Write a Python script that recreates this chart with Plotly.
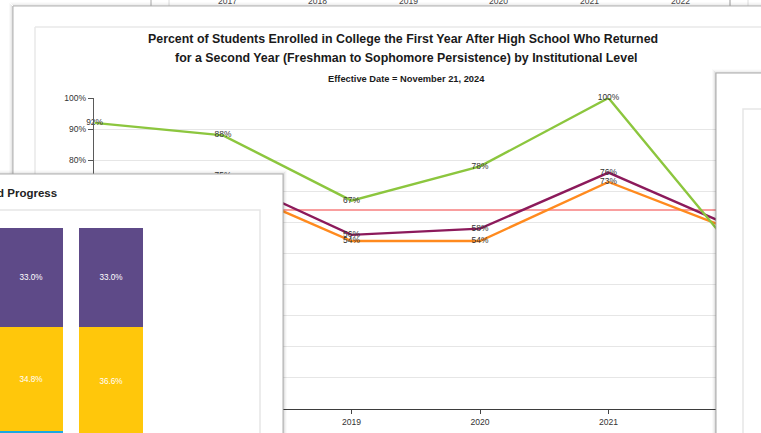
import plotly.graph_objects as go

FONT = "Liberation Sans, Arial, Helvetica, sans-serif"

# ---------------- data ----------------
years = [2017, 2018, 2019, 2020, 2021, 2022]
year_labels = ["2017", "2018", "2019", "2020", "2021", "2022"]

four_year = [92, 88, 67, 78, 100, 50]      # green series
all_levels = [72, 75, 56, 58, 76, 58]      # maroon series
two_year = [69, 72, 54, 54, 73, 57]        # orange series
benchmark = [64, 64, 64, 64, 64, 64]       # red reference line

pct_ticks = [0, 10, 20, 30, 40, 50, 60, 70, 80, 90, 100]
pct_tick_labels = ["0%", "10%", "20%", "30%", "40%", "50%", "60%", "70%", "80%", "90%", "100%"]

bar_groups = ["Fall", "Spring"]
seg_top = [33.0, 33.0]
seg_mid = [34.8, 36.6]
seg_low = [32.2, 30.4]

# ---------------- canvas geometry ----------------
W, H = 761, 433


def fx(px):
    """pixel -> paper x"""
    return px / W


def fy(py):
    """pixel -> paper y"""
    return 1 - py / H


def px_of_fx(p):
    return p * W


def py_of_fy(p):
    return (1 - p) * H


def clamp(v):
    return min(1.0, max(0.0, v))


def x_axis_geom(px0, px1, val_at_px):
    d0, d1 = clamp(fx(px0)), clamp(fx(px1))
    return [d0, d1], [val_at_px(px_of_fx(d0)), val_at_px(px_of_fx(d1))]


def y_axis_geom(py_top, py_bottom, val_at_py):
    d0, d1 = clamp(fy(py_bottom)), clamp(fy(py_top))
    return [d0, d1], [val_at_py(py_of_fy(d0)), val_at_py(py_of_fy(d1))]


# axis scales (value <-> pixel)
main_x = lambda px: 2017 + (px - 94.5) / 128.5
main_y = lambda py: (409 - py) / 3.11
back_x = lambda px: 2017 + (px - 227) / 90.6
bar_x = lambda px: (px - 31) / 80
bar_y = lambda py: 100 - (py - 228) / 3
ident = lambda p: p

fig = go.Figure()

# subplot 2: axis of the window behind (only its tick labels peek out at the top)
fig.add_trace(go.Scatter(x=[], y=[], xaxis="x2", yaxis="y2", hoverinfo="skip", showlegend=False))

# subplot 3: main persistence line chart
fig.add_trace(go.Scatter(
    x=years, y=benchmark, mode="lines", name="Benchmark",
    line=dict(color="rgba(245,105,105,0.85)", width=1.6),
    xaxis="x3", yaxis="y3", hoverinfo="skip", showlegend=False,
))
series = [
    ("All Levels", all_levels, "#8c1a5b"),
    ("Two-Year", two_year, "#ff8a1e"),
    ("Four-Year", four_year, "#8cc63e"),
]
for name, vals, col in series:
    fig.add_trace(go.Scatter(
        x=years, y=vals, name=name, mode="lines+text",
        line=dict(color=col, width=2.4),
        text=[f"{v}%" for v in vals], textposition="middle center",
        textfont=dict(family=FONT, size=8.4, color="#333333"),
        cliponaxis=False, xaxis="x3", yaxis="y3", showlegend=False,
    ))

# subplot 4: frame of the overlapping bar-chart window
fig.add_trace(go.Scatter(x=[], y=[], xaxis="x4", yaxis="y4", hoverinfo="skip", showlegend=False))

# subplot 5: stacked bars inside that window
for vals, col, show_text in [(seg_low, "#1aa8e2", False), (seg_mid, "#ffc70b", True), (seg_top, "#5e4a88", True)]:
    fig.add_trace(go.Bar(
        x=bar_groups, y=vals, marker=dict(color=col, line=dict(width=0)),
        text=[f"{v:.1f}%" for v in vals] if show_text else None,
        textposition="inside" if show_text else "none", insidetextanchor="middle",
        textangle=0, insidetextfont=dict(family=FONT, size=8.2, color="white"),
        xaxis="x5", yaxis="y5", showlegend=False,
    ))

# subplot 6: frame of the window on the right
fig.add_trace(go.Scatter(x=[], y=[], xaxis="x6", yaxis="y6", hoverinfo="skip", showlegend=False))

hidden = dict(visible=False, showgrid=False, zeroline=False, fixedrange=True, automargin=False)

shapes = []


def pline(x0, y0, x1, y1, color, width=1.0):
    shapes.append(dict(type="line", xref="paper", yref="paper", layer="below",
                       x0=fx(x0), x1=fx(x1), y0=fy(y0), y1=fy(y1),
                       line=dict(color=color, width=width)))


def sline(ax, x0, y0, x1, y1, color, width=1.0):
    shapes.append(dict(type="line", xref="x" + ax, yref="y" + ax, layer="below",
                       x0=x0, x1=x1, y0=y0, y1=y1,
                       line=dict(color=color, width=width)))


def srect(ax, x0, y0, x1, y1, line_color, width=1.0, fill=None):
    d = dict(type="rect", xref="x" + ax, yref="y" + ax, layer="below",
             x0=x0, x1=x1, y0=y0, y1=y1, line=dict(color=line_color, width=width))
    if fill:
        d["fillcolor"] = fill
    shapes.append(d)


# window behind: edges peeking above the main window
for xp, col in [(151, "#a8a8a8"), (169, "#dcdcdc"), (730, "#9a9a9a"), (748, "#dedede")]:
    pline(xp, -2, xp, 6, col)

# main window: soft shadow, border and inner panel
for i, a in enumerate([0.16, 0.09, 0.05, 0.025]):
    pline(12.5 - i, 6 - i, 12.5 - i, 440, f"rgba(0,0,0,{a})")
    pline(13 - i, 5.5 - i, 780, 5.5 - i, f"rgba(0,0,0,{a * 0.7:.3f})")
pline(13, 6, 13, 440, "#b3b3b3")
pline(13, 6, 780, 6, "#b3b3b3")
pline(35, 27, 35, 440, "#e9e9e9", 1.5)
pline(35, 27, 780, 27, "#e9e9e9", 1.5)

# bar window, drawn in subplot 4 above the line chart (pixel-scaled axes)
for i, a in enumerate([0.18, 0.1, 0.05, 0.02]):
    sline("4", 283.5 + i, 173 - i, 283.5 + i, 440, f"rgba(0,0,0,{a})")
    sline("4", -5, 173.5 - i, 283 + i, 173.5 - i, f"rgba(0,0,0,{a * 0.7:.3f})")
srect("4", -10, 174, 283, 450, "#b0b0b0", 1, "white")
srect("4", -10, 210, 260, 460, "#e6e6e6", 1.5)

# right window, drawn in subplot 6
for i, a in enumerate([0.18, 0.1, 0.05, 0.02]):
    sline("6", 715.5 - i, 72 - i, 715.5 - i, 440, f"rgba(0,0,0,{a})")
    sline("6", 716 - i, 72.5 - i, 780, 72.5 - i, f"rgba(0,0,0,{a * 0.6:.3f})")
srect("6", 716, 73, 790, 450, "#a9a9a9", 1, "white")
srect("6", 743, 109, 800, 460, "#e6e6e6", 1.5)

annotations = []
# tick labels of the window behind, placed through its own x axis
for yr, lab in zip(years, year_labels):
    annotations.append(dict(x=yr, xref="x2", y=fy(1.2), yref="paper", text=lab,
                            showarrow=False, xanchor="center", yanchor="middle",
                            font=dict(family=FONT, size=8.6, color="#444444")))


def title_ann(x, y, text, size, anchor="center", color="#1a1a1a"):
    annotations.append(dict(x=fx(x), y=fy(y), xref="paper", yref="paper", showarrow=False,
                            text=text, font=dict(family=FONT, size=size, color=color),
                            xanchor=anchor, yanchor="middle"))


title_ann(403, 38.5, "<b>Percent of Students Enrolled in College the First Year After High School Who Returned</b>", 12.4)
title_ann(406, 58, "<b>for a Second Year (Freshman to Sophomore Persistence) by Institutional Level</b>", 12.4)
title_ann(406.5, 78.5, "<b>Effective Date = November 21, 2024</b>", 9.3)
title_ann(59.3, 193, "<b>Degree Completion and Progress</b>", 11.5, anchor="right", color="#222222")

dom_x2, rng_x2 = x_axis_geom(169, 730, back_x)
dom_y2, rng_y2 = y_axis_geom(-6, 2, lambda p: p)
dom_x3, rng_x3 = x_axis_geom(94, 750, main_x)
dom_y3, rng_y3 = y_axis_geom(98, 409, main_y)
dom_x4, rng_x4 = x_axis_geom(0, 292, ident)
dom_y4, rng_y4 = y_axis_geom(166, 433, ident)
dom_x5, rng_x5 = x_axis_geom(0, 260, bar_x)
dom_y5, rng_y5 = y_axis_geom(210, 433, bar_y)
dom_x6, rng_x6 = x_axis_geom(700, 761, ident)
dom_y6, rng_y6 = y_axis_geom(60, 433, ident)

fig.update_layout(
    width=W, height=H, autosize=False,
    margin=dict(l=0, r=0, t=0, b=0, pad=0, autoexpand=False),
    paper_bgcolor="white", plot_bgcolor="rgba(0,0,0,0)",
    font=dict(family=FONT),
    showlegend=False,
    barmode="stack", bargap=0.2,
    shapes=shapes, annotations=annotations,
    # window behind
    xaxis2=dict(domain=dom_x2, range=rng_x2, anchor="y2", **hidden),
    yaxis2=dict(domain=dom_y2, range=rng_y2, anchor="x2", **hidden),
    # main line chart
    xaxis3=dict(
        domain=dom_x3, range=rng_x3, anchor="y3", automargin=False,
        tickvals=years, ticktext=year_labels,
        ticks="outside", ticklen=4, tickcolor="#444444", tickwidth=1,
        showline=True, linecolor="#3d3d3d", linewidth=1.4,
        showgrid=False, zeroline=False, fixedrange=True,
        tickfont=dict(family=FONT, size=8.6, color="#333333"),
    ),
    yaxis3=dict(
        domain=dom_y3, range=rng_y3, anchor="x3", automargin=False,
        tickvals=pct_ticks, ticktext=pct_tick_labels,
        ticks="outside", ticklen=5, tickcolor="#555555", tickwidth=1,
        showline=True, linecolor="#5a5a5a", linewidth=1.4,
        showgrid=True, gridcolor="#e6e6e6", gridwidth=1,
        zeroline=False, fixedrange=True,
        tickfont=dict(family=FONT, size=8.5, color="#333333"),
    ),
    # bar window frame, pixel-scaled axes
    xaxis4=dict(domain=dom_x4, range=rng_x4, anchor="y4", **hidden),
    yaxis4=dict(domain=dom_y4, range=rng_y4, anchor="x4", **hidden),
    # stacked bars
    xaxis5=dict(domain=dom_x5, range=rng_x5, type="category", anchor="y5", **hidden),
    yaxis5=dict(domain=dom_y5, range=rng_y5, anchor="x5", **hidden),
    # right window frame
    xaxis6=dict(domain=dom_x6, range=rng_x6, anchor="y6", **hidden),
    yaxis6=dict(domain=dom_y6, range=rng_y6, anchor="x6", **hidden),
)

fig.write_html("out.html", config={"displayModeBar": False})
